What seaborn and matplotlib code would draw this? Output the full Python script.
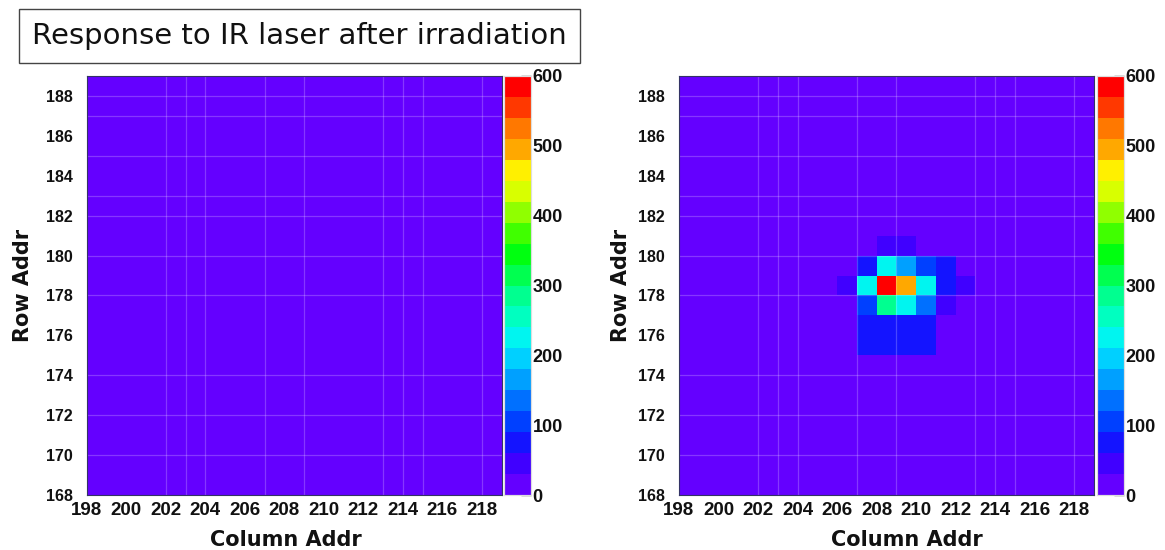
import numpy as np
import pandas as pd
import matplotlib
matplotlib.use("Agg")
import matplotlib.pyplot as plt
from matplotlib.colors import ListedColormap
import seaborn as sns

# ---------------- data ----------------
col_addr = list(range(198, 219))          # 21 columns (bin lower edges)
row_addr = list(range(168, 189))          # 21 rows (bin lower edges)
x_tick_labels = [str(v) for v in range(198, 219, 2)]
y_tick_labels = [str(v) for v in range(168, 189, 2)]
cbar_ticks = [0, 100, 200, 300, 400, 500, 600]

background_level = 10

# hot spot seen after irradiation (right panel)
spot_rows = [180, 180,
             179, 179, 179, 179, 179,
             178, 178, 178, 178, 178, 178, 178,
             177, 177, 177, 177, 177,
             176, 176, 176, 176,
             175, 175, 175, 175]
spot_cols = [208, 209,
             207, 208, 209, 210, 211,
             206, 207, 208, 209, 210, 211, 212,
             207, 208, 209, 210, 211,
             207, 208, 209, 210,
             207, 208, 209, 210]
spot_vals = [55, 50,
             85, 225, 160, 95, 65,
             40, 220, 585, 495, 220, 75, 45,
             90, 280, 215, 130, 45,
             70, 75, 75, 65,
             65, 65, 65, 60]

# faint rendering seams visible in the original picture
seam_cols = [202, 203, 204, 207, 209, 213, 214, 215, 218]
seam_rows = [188, 187, 185, 183, 182, 180, 178, 174, 172, 170]

palette = ["#6400ff", "#4000ff", "#1414ff", "#0040ff", "#0070ff",
           "#00a0ff", "#00d0ff", "#00f5f0", "#00ffc0", "#00ff90",
           "#00ff50", "#00ff10", "#40ff00", "#90ff00", "#d8ff00",
           "#fff000", "#ffa800", "#ff7800", "#ff3800", "#ff0000"]
cmap = ListedColormap(palette)

# ---------------- tables ----------------
before = pd.DataFrame(background_level, index=row_addr, columns=col_addr, dtype=float)
after = before.copy()
for r, c, v in zip(spot_rows, spot_cols, spot_vals):
    after.loc[r, c] = v

# ---------------- figure ----------------
sns.set_theme(style="white")
plt.rcParams["font.family"] = ["Liberation Sans", "DejaVu Sans"]

W, H = 1165, 550
fig = plt.figure(figsize=(W / 100, H / 100), dpi=100)


def fx(px):
    return px / W


def fy(py):
    return 1 - py / H


panels = [
    (before, 86.7, 504, 33, 0.48),
    (after, 679, 1097, 631, 0.55),
]

ax_w = 415
top, bottom = 76, 495

for data, x0, cx0, ylab_x, xlab_pos in panels:
    ax = fig.add_axes([fx(x0), fy(bottom), ax_w / W, (bottom - top) / H])
    cax = fig.add_axes([fx(cx0), fy(bottom), 27 / W, (bottom - top) / H])
    sns.heatmap(data, ax=ax, cbar_ax=cax, cmap=cmap, vmin=0, vmax=600,
                xticklabels=False, yticklabels=False,
                cbar_kws={"ticks": cbar_ticks})
    ax.invert_yaxis()
    # ticks at bin edges (ROOT style)
    ax.set_xticks(np.arange(0, len(col_addr), 2))
    ax.set_xticklabels(x_tick_labels, fontsize=13.5, fontweight="bold",
                       rotation=0)
    ax.set_yticks(np.arange(0, len(row_addr), 2))
    ax.set_yticklabels(y_tick_labels, fontsize=11.5, fontweight="bold",
                       rotation=0)
    ax.tick_params(axis="both", length=0, pad=5, colors="#111111")
    ax.tick_params(axis="y", pad=10)

    for c in seam_cols:
        ax.axvline(col_addr.index(c), color="white", alpha=0.22, lw=0.9)
    for r in seam_rows:
        ax.axhline(row_addr.index(r), color="white", alpha=0.22, lw=0.9)

    for s in ax.spines.values():
        s.set_visible(True)
        s.set_color("#333366")
        s.set_linewidth(0.8)

    ax.set_xlabel("Column Addr", fontsize=15, fontweight="bold",
                  family=["DejaVu Sans"], color="#111111")
    ax.set_ylabel("Row Addr", fontsize=15, fontweight="bold",
                  family=["DejaVu Sans"], color="#111111")
    ax.xaxis.set_label_coords(xlab_pos, -0.083)
    ax.yaxis.set_label_coords((ylab_x - x0) / ax_w, 0.5)

    cax.tick_params(direction="in", length=7, width=1.0, color="#444444",
                    labelsize=13, pad=1, right=True)
    cax.set_yticks(cbar_ticks)
    cax.set_yticklabels([str(t) for t in cbar_ticks], fontweight="bold",
                        fontsize=13, color="#111111")
    for s in cax.spines.values():
        s.set_visible(True)
        s.set_color("#dddddd")
        s.set_linewidth(0.8)

fig.text(fx(32), fy(36), "Response to IR laser after irradiation",
         fontsize=21, family=["DejaVu Sans"], color="#111111",
         va="center", ha="left",
         bbox=dict(boxstyle="square,pad=0.45", facecolor="white",
                   edgecolor="#444444", linewidth=1.0))

fig.savefig("out.png", dpi=100)
